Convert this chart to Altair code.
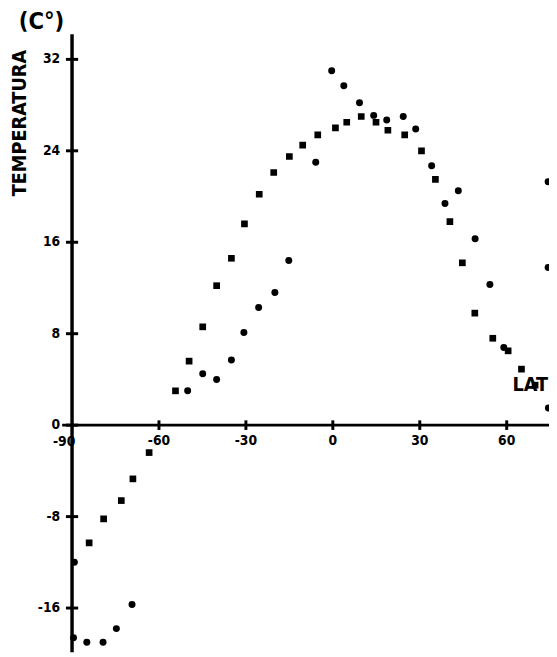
import altair as alt
import pandas as pd

# ---- data ----
circle_lat = [-89.5, -89.2, -84.9, -79.3, -74.7, -69.3,
              -50.1, -44.9, -40.1, -35.0, -30.7, -25.6, -20.0, -15.2, -5.9,
              -0.4, 3.8, 9.2, 14.1, 18.6, 24.3, 28.6, 34.1, 38.7, 43.3,
              49.1, 54.2, 59.0, 74.3, 74.3, 74.4]
circle_temp = [-18.6, -12.0, -19.0, -19.0, -17.8, -15.7,
               3.0, 4.5, 4.0, 5.7, 8.1, 10.3, 11.6, 14.4, 23.0,
               31.0, 29.7, 28.2, 27.1, 26.7, 27.0, 25.9, 22.7, 19.4, 20.5,
               16.3, 12.3, 6.8, 21.3, 13.8, 1.5]

square_lat = [-84.1, -79.1, -73.0, -69.0, -63.4,
              -54.3, -49.6, -44.9, -40.1, -35.0, -30.5, -25.4, -20.4, -15.0,
              -10.4, -5.2, 0.9, 4.8, 9.8, 14.9, 19.0, 24.8, 30.6, 35.4,
              40.4, 44.7, 49.0, 55.2, 60.5, 65.1, 69.8]
square_temp = [-10.3, -8.2, -6.6, -4.7, -2.4,
               3.0, 5.6, 8.6, 12.2, 14.6, 17.6, 20.2, 22.1, 23.5,
               24.5, 25.4, 26.0, 26.5, 27.0, 26.5, 25.8, 25.4, 24.0, 21.5,
               17.8, 14.2, 9.8, 7.6, 6.5, 4.9, 3.5]

y_ticks = [-16, -8, 0, 8, 16, 24, 32]
y_tick_labels = ["-16", "-8", "0", "8", "16", "24", "32"]
x_ticks = [-60, -30, 0, 30, 60]
x_tick_labels = ["-60", "-30", "0", "30", "60"]
x_origin_label = ["-90"]
x_origin = [-90]

# ---- layout ----
X_DOM = [-112.1, 74.6]
Y_DOM = [-19.87, 36.08]
xs = alt.Scale(domain=X_DOM, nice=False, zero=False)
ys = alt.Scale(domain=Y_DOM, nice=False, zero=False)
FONT = "'DejaVu Sans Condensed', 'DejaVu Sans', sans-serif"

circles_df = pd.DataFrame({"lat": circle_lat, "temp": circle_temp})
squares_df = pd.DataFrame({"lat": square_lat, "temp": square_temp})

X = alt.X("lat:Q", scale=xs, axis=None)
Y = alt.Y("temp:Q", scale=ys, axis=None)

circles = alt.Chart(circles_df).mark_point(
    shape="circle", filled=True, color="black", opacity=1, size=50, clip=True
).encode(x=X, y=Y)

squares = alt.Chart(squares_df).mark_point(
    shape="square", filled=True, color="black", opacity=1, size=46, clip=True
).encode(x=X, y=Y)

# axis lines
yaxis_df = pd.DataFrame({"lat": [-90], "t1": [34.2], "t2": [-21.0]})
yaxis = alt.Chart(yaxis_df).mark_rule(color="black", strokeWidth=3.5, clip=True).encode(
    x=X, y=alt.Y("t1:Q", scale=ys, axis=None), y2="t2:Q"
)
xaxis_df = pd.DataFrame({"l1": [-93.4], "l2": [80.0], "temp": [0]})
xaxis = alt.Chart(xaxis_df).mark_rule(color="black", strokeWidth=3, clip=True).encode(
    x=alt.X("l1:Q", scale=xs, axis=None), x2="l2:Q", y=Y
)

# ticks (small crosses on the axes)
yt_df = pd.DataFrame({"lat": [-90] * len(y_ticks), "temp": y_ticks, "label": y_tick_labels})
ytick = alt.Chart(yt_df).transform_calculate(
    a="datum.lat - 2.1", b="datum.lat + 2.1"
).mark_rule(color="black", strokeWidth=3).encode(
    x=alt.X("a:Q", scale=xs, axis=None), x2="b:Q", y=Y
)
ylab = alt.Chart(yt_df).mark_text(
    font=FONT, fontWeight="bold", fontSize=14, align="right", baseline="middle", dx=-12, color="black"
).encode(x=X, y=Y, text="label:N")

xt_df = pd.DataFrame({"lat": x_ticks, "temp": [0] * len(x_ticks), "label": x_tick_labels})
xtick = alt.Chart(xt_df).transform_calculate(
    a="datum.temp - 0.42", b="datum.temp + 0.42"
).mark_rule(color="black", strokeWidth=3).encode(
    x=X, y=alt.Y("a:Q", scale=ys, axis=None), y2="b:Q"
)
xlab = alt.Chart(xt_df).mark_text(
    font=FONT, fontWeight="bold", fontSize=14, align="center", baseline="middle", dy=16, color="black"
).encode(x=X, y=Y, text="label:N")

xo_df = pd.DataFrame({"lat": x_origin, "temp": [0], "label": x_origin_label})
xolab = alt.Chart(xo_df).mark_text(
    font=FONT, fontWeight="bold", fontSize=14, align="center", baseline="middle", dy=17, dx=-8, color="black"
).encode(x=X, y=Y, text="label:N")

# titles
unit_title = alt.Chart(pd.DataFrame({"t": ["(C°)"]})).mark_text(
    font=FONT, fontWeight="bold", fontSize=24, align="center", baseline="middle", color="black"
).encode(x=alt.value(34), y=alt.value(10), text="t:N")

y_title = alt.Chart(pd.DataFrame({"t": ["TEMPERATURA"]})).mark_text(
    font=FONT, fontWeight="bold", fontSize=20, align="center", baseline="middle", angle=270, color="black"
).encode(x=alt.value(12), y=alt.value(112), text="t:N")

x_title = alt.Chart(pd.DataFrame({"t": ["LAT"]})).mark_text(
    font=FONT, fontWeight="bold", fontSize=20, align="right", baseline="middle", color="black"
).encode(x=alt.value(548), y=alt.value(378), text="t:N")

chart = alt.layer(
    yaxis, xaxis, ytick, xtick, ylab, xlab, xolab, squares, circles, unit_title, y_title, x_title
).properties(
    width=549, height=649, autosize=alt.AutoSizeParams(type="none"), padding=0
).configure_view(strokeWidth=0)

chart.save("out.html", embed_options={"renderer": "svg", "actions": False})
